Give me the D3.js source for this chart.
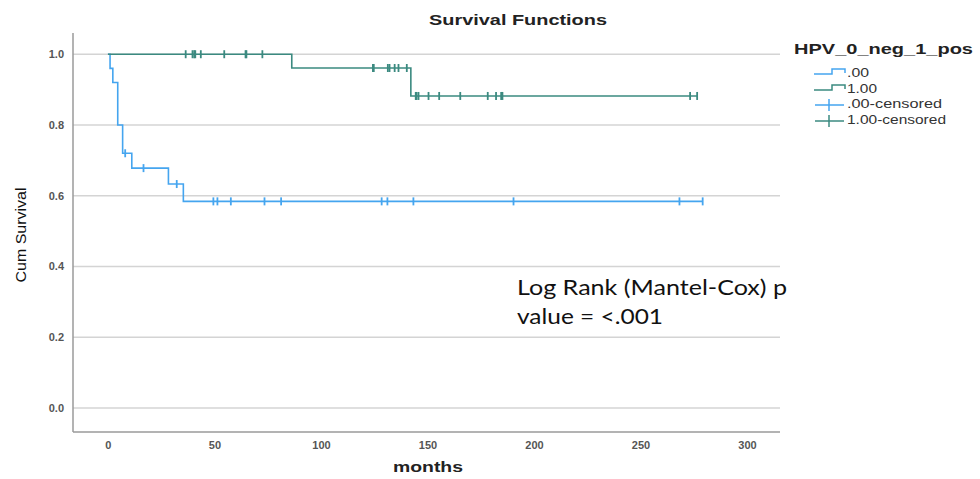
<!DOCTYPE html>
<html><head><meta charset="utf-8">
<script src="https://cdn.jsdelivr.net/npm/d3@7"></script>
<style>body{margin:0;background:#fff}svg{display:block}</style>
</head><body>
<svg id="c" width="980" height="479"></svg>
<script>
// ---- data ----
const groups = [".00", "1.00"];
const groupColors = ["#45a5ef", "#3b8a80"];
// step changes (time in months, cumulative survival after the event)
const negEventTimes = [0, 1.0, 2.3, 4.6, 6.9, 11.2, 28.4, 35.4];
const negSurvival   = [1.0, 0.96, 0.92, 0.80, 0.72, 0.678, 0.633, 0.584];
const negCensored   = [8.1, 16.7, 32.3, 49.5, 51.4, 57.7, 73.5, 81.3, 128.5, 131.2, 143.4, 190.4, 268.3, 279.2];
const posEventTimes = [0, 86.3, 142.2];
const posSurvival   = [1.0, 0.961, 0.882];
const posCensored   = [36.5, 39.7, 40.5, 41.0, 43.6, 54.6, 64.6, 65.0, 72.5, 124.4, 124.8, 131.4, 132.2, 134.6, 136.4, 140.3, 144.5, 144.9, 145.8, 150.5, 155.5, 165.4, 178.3, 182.2, 184.6, 185.2, 273.3, 276.6];
const xTicks = [0, 50, 100, 150, 200, 250, 300];
const yTicks = [0.0, 0.2, 0.4, 0.6, 0.8, 1.0];
const legendLabels = [".00", "1.00", ".00-censored", "1.00-censored"];

// ---- scales ----
const svg = d3.select("#c");
const x = d3.scaleLinear().domain([-16.4, 315.5]).range([73, 780]);
const y = d3.scaleLinear().domain([-0.068, 1.06]).range([432, 33]);

// gridlines
svg.append("g").selectAll("line").data(yTicks).join("line")
  .attr("x1", 73).attr("x2", 780)
  .attr("y1", d => y(d)).attr("y2", d => y(d))
  .attr("stroke", "#d4d4d4").attr("stroke-width", 1.5);

// axes
const yAxis = d3.axisLeft(y).tickValues(yTicks).tickFormat(d3.format(".1f")).tickSize(0).tickPadding(9);
const gy = svg.append("g").attr("transform", "translate(73,0)").call(yAxis);
const xAxis = d3.axisBottom(x).tickValues(xTicks).tickFormat(d3.format("d")).tickSize(0).tickPadding(9);
const gx = svg.append("g").attr("transform", "translate(0,432)").call(xAxis);
[gx, gy].forEach(g => {
  g.select(".domain").attr("stroke", "#9a9a9a").attr("stroke-width", 1.5);
  g.selectAll("text").attr("font-family", "Liberation Sans, Arial, sans-serif")
    .attr("font-size", 11).attr("fill", "#555").attr("font-weight", "bold");
});
gy.select(".domain").attr("d", `M0,${y(1.06)}V432`);
gx.select(".domain").attr("d", `M73,0H780`);

// KM curves
function stepPath(times, surv, end) {
  const pts = [];
  times.forEach((t, i) => {
    if (i > 0) pts.push([t, surv[i - 1]]);
    pts.push([t, surv[i]]);
  });
  pts.push([end, surv[surv.length - 1]]);
  return d3.line().x(d => x(d[0])).y(d => y(d[1]))(pts);
}
function survAt(times, surv, t) {
  let s = surv[0];
  times.forEach((tt, i) => { if (tt <= t) s = surv[i]; });
  return s;
}
const series = [
  {times: negEventTimes, surv: negSurvival, cens: negCensored, color: groupColors[0]},
  {times: posEventTimes, surv: posSurvival, cens: posCensored, color: groupColors[1]}
];
series.forEach(s => {
  const end = d3.max(s.cens);
  svg.append("path").attr("d", stepPath(s.times, s.surv, end))
    .attr("fill", "none").attr("stroke", s.color).attr("stroke-width", 1.6);
  svg.append("g").selectAll("line").data(s.cens).join("line")
    .attr("x1", d => x(d)).attr("x2", d => x(d))
    .attr("y1", d => y(survAt(s.times, s.surv, d)) - 4)
    .attr("y2", d => y(survAt(s.times, s.surv, d)) + 4)
    .attr("stroke", s.color).attr("stroke-width", 1.8);
});

// title
svg.append("text").attr("x", 518).attr("y", 25).attr("text-anchor", "middle")
  .attr("font-family", "Liberation Sans, Arial, sans-serif").attr("font-weight", "bold")
  .attr("font-size", 15.5).attr("fill", "#222")
  .attr("textLength", 178).attr("lengthAdjust", "spacingAndGlyphs")
  .text("Survival Functions");

// axis titles
svg.append("text").attr("transform", "translate(26,235) rotate(-90)").attr("text-anchor", "middle")
  .attr("font-family", "Liberation Sans, Arial, sans-serif").attr("font-size", 15).attr("fill", "#111")
  .attr("textLength", 95).attr("lengthAdjust", "spacingAndGlyphs")
  .text("Cum Survival");
svg.append("text").attr("x", 428).attr("y", 472).attr("text-anchor", "middle")
  .attr("font-family", "Liberation Sans, Arial, sans-serif").attr("font-weight", "bold")
  .attr("font-size", 15).attr("fill", "#222")
  .attr("textLength", 70).attr("lengthAdjust", "spacingAndGlyphs")
  .text("months");

// legend
const lg = svg.append("g");
lg.append("text").attr("x", 794).attr("y", 54)
  .attr("font-family", "Liberation Sans, Arial, sans-serif").attr("font-weight", "bold")
  .attr("font-size", 15).attr("fill", "#222")
  .attr("textLength", 179).attr("lengthAdjust", "spacingAndGlyphs")
  .text("HPV_0_neg_1_pos");
const rowY = [74, 90, 105, 121];
const labelW = [22, 30, 95, 99];
legendLabels.forEach((lab, i) => {
  const c = groupColors[i % 2];
  const yy = rowY[i];
  if (i < 2) {
    lg.append("path").attr("d", `M814,${yy}H832V${yy - 5}H845V${yy - 1}`)
      .attr("fill", "none").attr("stroke", c).attr("stroke-width", 1.5);
  } else {
    lg.append("line").attr("x1", 815).attr("x2", 844).attr("y1", yy).attr("y2", yy)
      .attr("stroke", c).attr("stroke-width", 1.5);
    lg.append("line").attr("x1", 829).attr("x2", 829).attr("y1", yy - 6).attr("y2", yy + 6)
      .attr("stroke", c).attr("stroke-width", 1.5);
  }
  lg.append("text").attr("x", 847).attr("y", yy + 3)
    .attr("font-family", "Liberation Sans, Arial, sans-serif").attr("font-size", 12.5).attr("fill", "#333")
    .attr("textLength", labelW[i]).attr("lengthAdjust", "spacingAndGlyphs")
    .text(lab);
});

// annotation
const ann = svg.append("text").attr("font-family", "Lato, 'Open Sans', sans-serif")
  .attr("font-size", 22).attr("fill", "#111");
ann.append("tspan").attr("x", 517).attr("y", 295)
  .attr("textLength", 270).attr("lengthAdjust", "spacingAndGlyphs")
  .text("Log Rank (Mantel-Cox) p");
ann.append("tspan").attr("x", 517).attr("y", 324)
  .attr("textLength", 146).attr("lengthAdjust", "spacingAndGlyphs")
  .text("value = <.001");
</script>
</body></html>
